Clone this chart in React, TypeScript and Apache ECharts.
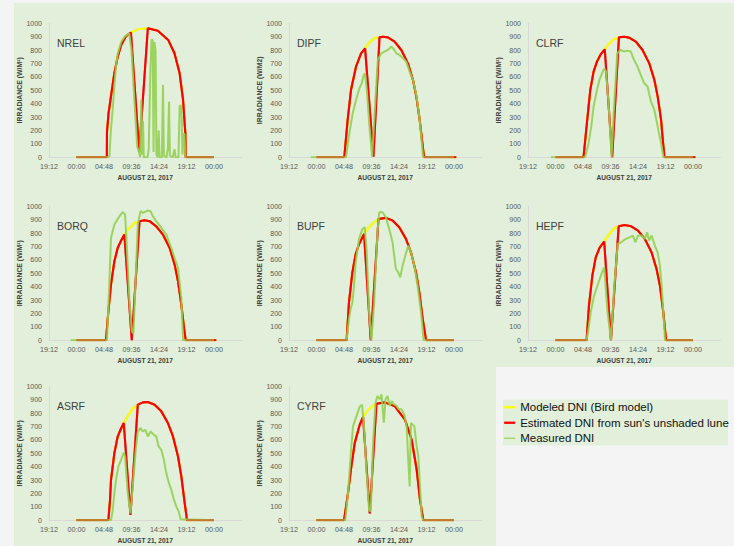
import React, { useEffect, useRef } from "react";
import * as echarts from "echarts";

type P = [number, number];

// ---- panel names / axis texts ----
const panelNames = ["NREL", "DIPF", "CLRF", "BORQ", "BUPF", "HEPF", "ASRF", "CYRF"];
const yAxisNames = [
  "IRRADIANCE (W/M²)", "IRRADIANCE (W/M2)", "IRRADIANCE (W/M²)",
  "IRRADIANCE (W/M²)", "IRRADIANCE (W/M²)", "IRRADIANCE (W/M²)",
  "IRRADIANCE (W/M²)", "IRRADIANCE (W/M²)",
];
const xAxisTitle = "AUGUST 21, 2017";
const seriesNames = ["Modeled DNI (Bird model)", "Estimated DNI from sun's unshaded lune", "Measured DNI"];

// ---- data: [hour of Aug 21, W/m²] ----
const nrelModel: P[] = [[0,0],[5.3,0],[5.32,190],[5.6,330],[6.0,450],[6.6,627],[7.2,751],[7.8,838],[8.65,905],[9.5,930],[10.7,955],[12.45,963],[14.2,945],[16.0,876],[17.1,776],[18.0,627],[18.6,428],[19.0,179],[19.05,0],[24,0]];
const nrelEst: P[] = [[0,0],[5.3,0],[5.32,190],[5.6,330],[6.0,450],[6.6,627],[7.2,751],[7.8,838],[8.65,905],[9.5,930],[10.95,40],[12.45,963],[14.2,945],[16.0,876],[17.1,776],[18.0,627],[18.6,428],[19.0,179],[19.05,0],[24,0]];
const nrelMeas: P[] = [[0,0],[5.6,0],[5.75,10],[6.0,200],[6.3,350],[6.6,530],[6.9,680],[7.2,775],[7.8,860],[8.4,900],[9.2,925],[9.6,800],[10.1,430],[10.6,80],[10.9,40],[11.1,0],[11.3,430],[11.45,20],[11.6,270],[11.75,0],[12.4,0],[12.6,60],[12.9,640],[13.1,880],[13.3,870],[13.45,40],[13.6,860],[13.8,800],[13.95,20],[14.15,0],[14.35,200],[14.5,0],[14.9,0],[15.1,540],[15.25,10],[15.7,0],[15.95,60],[16.15,415],[16.3,10],[16.8,0],[17.1,60],[17.3,0],[17.8,0],[18.0,380],[18.2,390],[18.35,300],[18.5,20],[18.7,180],[18.85,170],[19.0,0],[24,0]];

const dipfModel: P[] = [[0,0],[4.85,0],[5.44,280],[6.02,502],[6.9,677],[7.78,776],[8.48,813],[9.24,858],[10.12,888],[11.0,895],[11.58,900],[12.46,895],[13.63,863],[14.8,801],[15.96,701],[16.84,577],[17.43,453],[18.01,279],[18.42,129],[18.77,0],[24.4,0]];
const dipfEst: P[] = [[0,0],[4.85,0],[5.44,280],[6.02,502],[6.9,677],[7.78,776],[8.48,813],[9.94,5],[11.0,895],[11.58,900],[12.46,895],[13.63,863],[14.8,801],[15.96,701],[16.84,577],[17.43,453],[18.01,279],[18.42,129],[18.77,0],[24.4,0]];
const dipfMeas: P[] = [[-1,0],[5.15,0],[5.73,179],[6.32,328],[6.9,428],[7.49,515],[7.89,552],[8.25,614],[8.48,627],[8.83,478],[9.24,229],[9.71,5],[10.12,303],[10.7,726],[11.29,776],[11.87,789],[12.46,801],[13.04,826],[13.51,806],[13.92,776],[14.5,764],[15.09,739],[15.67,714],[16.26,639],[16.84,577],[17.43,465],[18.01,279],[18.6,5],[24,0]];

const clrfModel: P[] = [[0,0],[4.89,0],[5.48,254],[6.07,502],[6.65,639],[7.24,714],[7.83,764],[8.6,806],[9.3,846],[10.19,881],[11.07,895],[11.96,900],[12.84,893],[14.02,863],[15.19,801],[16.37,701],[17.26,577],[17.84,453],[18.43,279],[18.73,129],[19.02,0],[24.4,0]];
const clrfEst: P[] = [[0,0],[4.89,0],[5.48,254],[6.07,502],[6.65,639],[7.24,714],[7.83,764],[8.6,806],[9.89,0],[11.07,895],[11.96,900],[12.84,893],[14.02,863],[15.19,801],[16.37,701],[17.26,577],[17.84,453],[18.43,279],[18.73,129],[19.02,0],[24.4,0]];
const clrfMeas: P[] = [[-0.8,0],[5.18,0],[5.77,104],[6.24,229],[6.65,378],[7.24,502],[7.66,577],[8.13,627],[8.54,664],[8.83,639],[9.3,378],[9.78,0],[10.19,353],[10.78,776],[11.37,801],[11.96,789],[12.54,796],[13.13,789],[13.72,726],[14.31,677],[14.9,614],[15.49,552],[16.08,527],[16.67,415],[17.26,353],[17.84,229],[18.43,104],[18.85,0],[24,0]];

const borqModel: P[] = [[0,0],[5.15,0],[5.56,214],[6.02,414],[6.61,589],[7.19,688],[7.78,743],[8.36,788],[9.24,838],[10.12,875],[11.0,888],[11.87,895],[12.75,888],[13.92,850],[15.09,788],[16.26,688],[17.13,564],[17.72,439],[18.3,264],[18.77,90],[19.06,0],[24.4,0]];
const borqEst: P[] = [[0,0],[5.15,0],[5.56,214],[6.02,414],[6.61,589],[7.19,688],[7.78,743],[8.36,788],[9.65,0],[11.0,888],[11.87,895],[12.75,888],[13.92,850],[15.09,788],[16.26,688],[17.13,564],[17.72,439],[18.3,264],[18.77,90],[19.06,0],[24.4,0]];
const borqMeas: P[] = [[-1,0],[5.32,0],[5.73,420],[6.02,763],[6.61,863],[7.49,925],[8.07,955],[8.48,938],[8.83,663],[9.24,289],[9.65,65],[9.94,52],[10.29,414],[10.7,863],[11.17,963],[11.58,950],[12.46,968],[12.92,963],[13.33,925],[13.92,888],[14.8,838],[15.67,788],[16.55,688],[17.13,613],[17.72,539],[18.3,314],[18.6,0],[24,0]];

const bupfModel: P[] = [[0,0],[5.26,0],[5.67,282],[6.26,506],[6.84,643],[7.43,718],[8.3,793],[9.18,843],[10.06,880],[10.82,905],[12.11,913],[13.27,893],[14.44,843],[15.61,756],[16.49,656],[17.37,506],[17.95,357],[18.54,157],[19.12,0],[24,0]];
const bupfEst: P[] = [[0,0],[5.26,0],[5.67,282],[6.26,506],[6.84,643],[7.43,718],[8.3,793],[9.47,0],[10.82,905],[12.11,913],[13.27,893],[14.44,843],[15.61,756],[16.49,656],[17.37,506],[17.95,357],[18.54,157],[19.12,0],[24,0]];
const bupfMeas: P[] = [[0,0],[5.26,0],[5.67,157],[5.96,232],[6.26,282],[6.55,406],[6.84,581],[7.43,756],[8.01,830],[8.42,843],[8.77,656],[9.18,207],[9.59,0],[10.06,282],[10.64,805],[10.94,955],[11.52,955],[12.11,918],[12.69,830],[13.27,731],[13.86,531],[14.27,506],[14.62,469],[15.03,556],[15.5,631],[16.02,706],[16.49,656],[17.08,556],[17.66,406],[18.25,207],[18.71,0],[24,0]];

const hepfModel: P[] = [[0,0],[5.43,0],[5.84,257],[6.43,481],[7.02,618],[7.73,693],[8.5,736],[9.38,793],[10.27,835],[11.03,850],[12.04,860],[13.22,850],[14.4,818],[15.58,756],[16.76,656],[17.64,531],[18.23,406],[18.82,207],[19.29,0],[24,0]];
const hepfEst: P[] = [[0,0],[5.43,0],[5.84,257],[6.43,481],[7.02,618],[7.73,693],[8.5,736],[9.68,0],[11.03,850],[12.04,860],[13.22,850],[14.4,818],[15.58,756],[16.76,656],[17.64,531],[18.23,406],[18.82,207],[19.29,0],[24,0]];
const hepfMeas: P[] = [[0,0],[5.43,0],[5.84,107],[6.14,207],[6.73,332],[7.32,406],[7.91,481],[8.5,544],[9.09,207],[9.68,0],[10.27,406],[10.86,718],[11.45,731],[12.04,750],[12.92,768],[13.51,781],[13.92,731],[14.4,781],[14.99,781],[15.58,756],[15.99,805],[16.34,743],[16.76,781],[17.35,706],[17.82,656],[18.23,556],[18.53,406],[18.82,207],[19.12,0],[24,0]];

const asrfModel: P[] = [[0,0],[5.56,0],[5.85,150],[6.02,300],[6.61,501],[7.19,625],[7.78,685],[8.25,726],[8.95,780],[9.82,833],[10.7,863],[11.58,880],[12.46,883],[13.63,863],[14.8,813],[15.96,726],[16.84,626],[17.72,476],[18.3,327],[18.89,127],[19.3,0],[24,0]];
const asrfEst: P[] = [[0,0],[5.56,0],[5.85,150],[6.02,300],[6.61,501],[7.19,625],[7.78,685],[8.25,726],[9.42,40],[10.7,863],[11.58,880],[12.46,883],[13.63,863],[14.8,813],[15.96,726],[16.84,626],[17.72,476],[18.3,327],[18.89,127],[19.3,0],[24,0]];
const asrfMeas: P[] = [[0,0],[6.02,0],[6.32,77],[6.61,202],[6.9,302],[7.31,401],[7.78,451],[8.25,506],[8.48,476],[8.95,202],[9.42,52],[9.82,252],[10.29,501],[10.7,663],[11.17,688],[11.58,663],[11.99,676],[12.46,626],[12.92,663],[13.51,638],[13.92,626],[14.33,551],[14.8,526],[15.26,451],[15.67,352],[16.14,277],[16.55,227],[17.02,152],[17.43,102],[17.84,65],[18.19,7],[24,0]];

const cyrfModel: P[] = [[0,0],[4.8,0],[5.5,202],[6.08,401],[6.67,576],[7.54,713],[8.13,771],[9.0,825],[9.88,855],[10.47,870],[11.93,880],[13.68,850],[15.44,751],[16.61,601],[17.49,377],[18.07,152],[18.65,0],[24,0]];
const cyrfEst: P[] = [[0,0],[4.8,0],[5.5,202],[6.08,401],[6.67,576],[7.54,713],[8.13,771],[9.3,52],[10.47,870],[11.93,880],[13.68,850],[15.44,751],[16.61,601],[17.49,377],[18.07,152],[18.65,0],[24,0]];
const cyrfMeas: P[] = [[0,0],[5.03,0],[5.5,202],[6.08,551],[6.37,701],[6.96,776],[7.54,848],[7.95,863],[8.3,701],[8.71,377],[9.18,77],[9.47,65],[9.88,576],[10.29,875],[10.64,928],[11.05,903],[11.35,940],[11.75,728],[12.05,903],[12.4,928],[12.81,853],[13.1,890],[13.57,865],[13.98,853],[14.39,828],[14.85,828],[15.32,790],[15.73,701],[16.02,451],[16.26,252],[16.49,726],[16.73,716],[17.08,701],[17.49,551],[17.78,476],[18.07,252],[18.36,27],[18.65,0],[24,0]];

const models = [nrelModel, dipfModel, clrfModel, borqModel, bupfModel, hepfModel, asrfModel, cyrfModel];
const estimates = [nrelEst, dipfEst, clrfEst, borqEst, bupfEst, hepfEst, asrfEst, cyrfEst];
const measured = [nrelMeas, dipfMeas, clrfMeas, borqMeas, bupfMeas, hepfMeas, asrfMeas, cyrfMeas];

// ---- layout ----
const colLeft = [49, 289, 528];
const rowTop = [23.3, 206.2, 386.3];
const plotW = 192.5;
const plotH = 134;

const FONT = "'Liberation Sans', Arial, sans-serif";
const GREEN_BG = "#e2efda";
const GREY_BG = "#f4f4f4";

const pad = (n: number) => (n < 10 ? "0" + n : "" + n);
const fmtTime = (v: number) => {
  if (v > 26) return "";
  const h = ((v % 24) + 24) % 24;
  const mins = Math.round(h * 60);
  return pad(Math.floor(mins / 60) % 24) + ":" + pad(mins % 60);
};
const fmtVal = (v: number) => String(Math.round(v));

function nightRanges(est: P[]): [P[], P[]] {
  const first = est.findIndex((p) => p[1] > 0);
  let last = -1;
  for (let k = est.length - 1; k >= 0; k--) if (est[k][1] > 0) { last = k; break; }
  const rise = est[first - 1][0];
  const set = est[last + 1][0];
  return [[[0, 0], [rise, 0]], [[set, 0], [24, 0]]];
}

export default function App() {
  const ref = useRef<HTMLDivElement>(null);
  useEffect(() => {
    if (!ref.current) return;
    const chart = echarts.init(ref.current, undefined, { renderer: "svg" });
    const grids: any[] = [];
    const xAxes: any[] = [];
    const yAxes: any[] = [];
    const series: any[] = [];
    const graphics: any[] = [
      { type: "rect", shape: { x: 0, y: 0, width: 734, height: 3 }, style: { fill: GREY_BG }, silent: true },
      { type: "rect", shape: { x: 0, y: 0, width: 14, height: 546 }, style: { fill: GREY_BG }, silent: true },
      { type: "rect", shape: { x: 496, y: 367, width: 238, height: 179 }, style: { fill: GREY_BG }, silent: true },
      { type: "rect", shape: { x: 503, y: 399.5, width: 225, height: 46 }, style: { fill: GREEN_BG }, silent: true },
    ];
    panelNames.forEach((name, i) => {
      const r = Math.floor(i / 3);
      const c = i % 3;
      const left = colLeft[c];
      const top = rowTop[r];
      grids.push({ left, top, width: plotW, height: plotH, containLabel: false });
      xAxes.push({
        gridIndex: i, type: "value", min: -4.8, max: 28.8, interval: 4.8,
        axisLine: { show: true, onZero: false, lineStyle: { color: "#d9d9d9", width: 1 } },
        axisTick: { show: false }, splitLine: { show: false },
        axisLabel: { fontSize: 7.2, color: "#595959", margin: 6, formatter: fmtTime, fontFamily: FONT },
        name: xAxisTitle, nameLocation: "middle", nameGap: 17,
        nameTextStyle: { fontSize: 6.6, fontWeight: "bold", color: "#404040", fontFamily: FONT },
      });
      yAxes.push({
        gridIndex: i, type: "value", min: 0, max: 1000, interval: 100,
        axisLine: { show: true, onZero: false, lineStyle: { color: "#d9d9d9", width: 1 } },
        axisTick: { show: false }, splitLine: { show: false },
        axisLabel: { fontSize: 7, color: "#595959", margin: 7, fontFamily: FONT, formatter: fmtVal },
        name: yAxisNames[i], nameLocation: "middle", nameGap: 25,
        nameTextStyle: { fontSize: 6.9, fontWeight: "bold", color: "#404040", fontFamily: FONT },
      });
      const base = { type: "line", xAxisIndex: i, yAxisIndex: i, symbol: "none", showSymbol: false, animation: false };
      series.push({
        ...base, name: seriesNames[0], data: models[i], z: 2,
        itemStyle: { color: "#ffff00" },
        lineStyle: { color: "#ffff00", width: 2.1, shadowColor: "rgba(120,90,0,0.35)", shadowBlur: 1 },
      });
      series.push({
        ...base, name: seriesNames[1], data: estimates[i], z: 3,
        itemStyle: { color: "#ff0000" },
        lineStyle: { color: "#ff0000", width: 2.1, shadowColor: "rgba(90,20,0,0.45)", shadowBlur: 1 },
      });
      series.push({
        ...base, name: seriesNames[2], data: measured[i], z: 4,
        itemStyle: { color: "#92d050" },
        lineStyle: { color: "#92d050", width: 2, opacity: 0.9 },
      });
      const [morning, evening] = nightRanges(estimates[i]);
      [morning, evening].forEach((d) => {
        series.push({
          ...base, name: "night", data: d, z: 5, silent: true,
          itemStyle: { color: "#c8782a" },
          lineStyle: { color: "#c8782a", width: 2 },
        });
      });
      graphics.push({
        type: "text", x: left + 8, y: top + 20, z: 50,
        style: { text: name, fill: "#404040", font: `10.5px ${FONT}`, verticalAlign: "middle", align: "left" },
        silent: true,
      });
    });

    chart.setOption({
      animation: false,
      backgroundColor: GREEN_BG,
      textStyle: { fontFamily: FONT },
      grid: grids,
      xAxis: xAxes,
      yAxis: yAxes,
      series,
      graphic: { elements: graphics },
      legend: {
        data: seriesNames.map((n, k) => ({ name: n, itemStyle: { opacity: 0 }, lineStyle: { width: k === 2 ? 1.3 : 2.3 } })),
        orient: "vertical", left: 503, top: 399.5, padding: 0, itemGap: 0,
        itemWidth: 11, itemHeight: 14, z: 100,
        selectedMode: false,
        textStyle: { fontSize: 11.5, color: "#111", lineHeight: 15.5, fontFamily: FONT },
      },
    });
    return () => chart.dispose();
  }, []);
  return <div ref={ref} style={{ position: "fixed", left: 0, top: 0, width: 734, height: 546 }} />;
}
